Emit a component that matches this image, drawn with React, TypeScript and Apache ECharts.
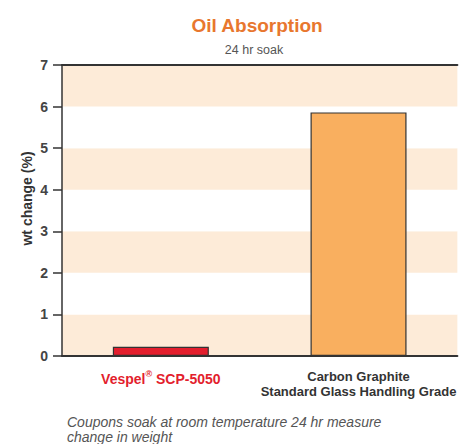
import React, { useEffect, useRef } from "react";
import * as echarts from "echarts";

const categories = ["Vespel® SCP-5050", "Carbon Graphite\nStandard Glass Handling Grade"];
const values = [0.22, 5.86];
const barColors = ["#E31E2D", "#F9AF5F"];
const yTicks = [0, 1, 2, 3, 4, 5, 6, 7];

export default function App() {
  const ref = useRef<HTMLDivElement>(null);
  useEffect(() => {
    const chart = echarts.init(ref.current!, null, { renderer: "svg" });
    const font = "'Liberation Sans', Arial, Helvetica, sans-serif";
    chart.setOption({
      animation: false,
      textStyle: { fontFamily: font },
      title: [
        {
          text: "Oil Absorption",
          left: 252,
          top: 11,
          textAlign: "center",
          textStyle: { color: "#E8772E", fontSize: 19, fontWeight: "bold", fontFamily: font },
        },
        {
          text: "24 hr soak",
          left: 249,
          top: 38,
          textAlign: "center",
          textStyle: { color: "#555", fontSize: 12.5, fontWeight: "normal", fontFamily: font },
        },
        {
          text: "Coupons soak at room temperature 24 hr measure\nchange in weight",
          left: 62,
          top: 409,
          textStyle: {
            color: "#555",
            fontSize: 14,
            fontStyle: "italic",
            fontWeight: "normal",
            lineHeight: 15,
            fontFamily: font,
          },
        },
      ],
      grid: { left: 62, right: 0, top: 65, bottom: 88 },
      xAxis: [
        {
          type: "category",
          data: categories,
          position: "bottom",
          axisLine: { lineStyle: { color: "#333", width: 2 } },
          axisTick: { show: false },
          axisLabel: {
            margin: 13,
            interval: 0,
            formatter: (v: string) =>
              v.startsWith("Vespel")
                ? "{red|Vespel}{sup|®}{red| SCP-5050}"
                : v
                    .split("\n")
                    .map((s) => "{dark|" + s + "}")
                    .join("\n"),
            rich: {
              red: { color: "#E31E2D", fontSize: 14, fontWeight: "bold", lineHeight: 20, fontFamily: font },
              sup: {
                color: "#E31E2D",
                fontSize: 9,
                fontWeight: "bold",
                verticalAlign: "top",
                lineHeight: 20,
                padding: [0, 0, 6, 0],
                fontFamily: font,
              },
              dark: {
                color: "#333",
                fontSize: 13,
                fontWeight: "bold",
                lineHeight: 15,
                fontFamily: font,
              },
            },
          },
        },
        {
          type: "category",
          data: categories,
          position: "top",
          axisLine: { lineStyle: { color: "#333", width: 2 } },
          axisTick: { show: false },
          axisLabel: { show: false },
        },
      ],
      yAxis: {
        type: "value",
        min: 0,
        max: 7,
        interval: 1,
        name: "wt change (%)",
        nameLocation: "middle",
        nameGap: 28,
        nameMoveOverlap: false,
        nameTextStyle: {
          color: "#333",
          fontSize: 14,
          fontWeight: "bold",
          fontFamily: font,
          padding: [0, 0, 0, 24],
        },
        axisLine: { show: true, lineStyle: { color: "#333", width: 1.5 } },
        axisTick: { show: true, length: 9, lineStyle: { color: "#333", width: 1.5 } },
        axisLabel: {
          color: "#444",
          fontSize: 14,
          fontWeight: "bold",
          margin: 14,
          formatter: (v: number) => (yTicks.includes(v) ? String(v) : ""),
        },
        splitLine: { show: false },
        splitArea: { show: true, areaStyle: { color: ["#FDEBD8", "#FFFFFF"] } },
      },
      series: [
        {
          type: "bar",
          barWidth: 96,
          data: values.map((v, i) => ({
            value: v,
            itemStyle: { color: barColors[i], borderColor: "#333", borderWidth: 1.2 },
          })),
        },
      ],
    });
    return () => chart.dispose();
  }, []);
  return (
    <div
      ref={ref}
      style={{ position: "fixed", left: 0, top: 0, width: 459, height: 444, background: "#fff" }}
    />
  );
}
